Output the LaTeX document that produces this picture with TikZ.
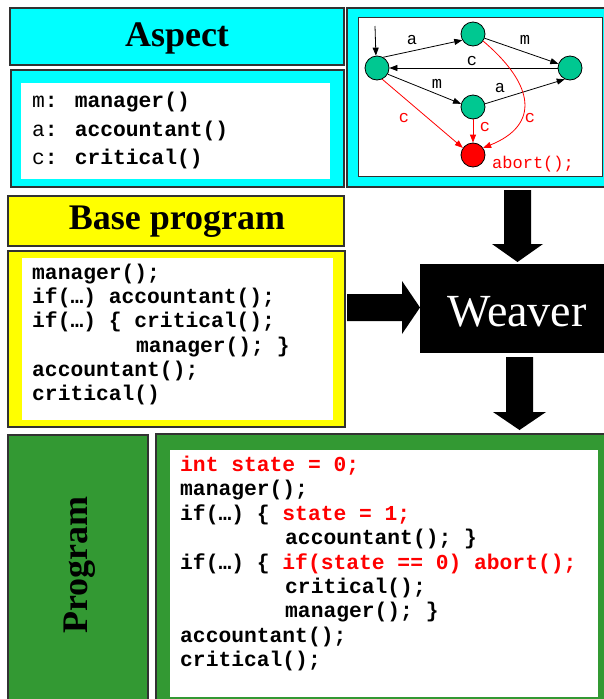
\documentclass[tikz,border=0pt]{standalone}
\usepackage{fontspec}
\setmainfont{Liberation Serif}
\newfontfamily\codefont{Liberation Mono}
\usetikzlibrary{arrows.meta}
\definecolor{cy}{RGB}{0,255,255}
\definecolor{yl}{RGB}{255,255,0}
\definecolor{gr}{RGB}{51,153,51}
\definecolor{nd}{RGB}{0,200,145}
\definecolor{bd}{RGB}{50,50,50}
\definecolor{rd}{RGB}{255,0,0}
\tikzset{
  box/.style={draw=bd,line width=1.2pt,anchor=north west,inner sep=0pt,outer sep=0pt},
  wbox/.style={fill=white,anchor=north west,inner sep=0pt,outer sep=0pt},
  title/.style={font=\fontsize{36}{40}\selectfont\bfseries},
  code/.style={anchor=base west,inner sep=0pt,font=\codefont\fontsize{21.3}{24}\selectfont\bfseries},
  st/.style={circle,draw=black,line width=0.8pt,minimum size=24pt,inner sep=0pt},
  glab/.style={inner sep=0pt,font=\codefont\fontsize{17}{20}\selectfont},
  garr/.style={line width=0.8pt,-{Triangle[length=8pt,width=6pt]}},
  blk/.style={fill=black,draw=none}
}
\begin{document}
\begin{tikzpicture}[x=1pt,y=-1pt]
\useasboundingbox (0,0) rectangle (604,699);
% ----- Aspect
\node[box,fill=cy,minimum width=334pt,minimum height=57pt] (aspT) at (10,8) {};
\node[title] (aspTxt) at (177,38) {Aspect};
\node[box,fill=cy,minimum width=333pt,minimum height=117pt] (aspC) at (11,70) {};
\node[wbox,minimum width=309pt,minimum height=96pt] (aspW) at (21,83) {};
\node[code] (a1) at (32,107) {{\mdseries m}: manager()};
\node[code] (a2) at (32,136) {{\mdseries a}: accountant()};
\node[code] (a3) at (32,164) {{\mdseries c}: critical()};
% ----- automaton
\node[box,fill=cy,minimum width=262pt,minimum height=179pt] (gB) at (347,8) {};
\node[wbox,draw=bd,line width=1pt,minimum width=244pt,minimum height=159pt] (gW) at (358,17) {};
\node[st,fill=nd] (n1) at (377,68) {};
\node[st,fill=nd] (n2) at (473,34) {};
\node[st,fill=nd] (n3) at (570,68) {};
\node[st,fill=nd] (n4) at (473,107) {};
\node[st,fill=rd] (n5) at (473,155) {};
\coordinate (s0) at (375,26);
\draw[garr] (s0) -- (n1.95);
\draw[garr] (n1.60) -- (n2.210);
\draw[garr] (n2.-20) -- (n3.160);
\draw[garr] (n3.west) -- (n1.east);
\draw[garr] (n1.-30) -- (n4.165);
\draw[garr] (n4.15) -- (n3.-115);
\draw[garr,rd] (n1.-65) -- (n5.145);
\draw[garr,rd] (n4.south) -- (n5.north);
\draw[garr,rd] (n2.-35) .. controls (535,85) and (540,125) .. (n5.35);
\node[glab] (la1) at (412,40) {a};
\node[glab] (lm1) at (525,40) {m};
\node[glab] (lc1) at (472,61) {c};
\node[glab] (lm2) at (437,84) {m};
\node[glab] (la2) at (500,88) {a};
\node[glab,rd] (lc2) at (404,118) {c};
\node[glab,rd] (lc3) at (485,127) {c};
\node[glab,rd] (lc4) at (530,118) {c};
\node[glab,rd,anchor=west] (ab) at (492,164) {abort();};
% ----- Base program
\node[box,fill=yl,minimum width=336pt,minimum height=50pt] (bpT) at (8,196) {};
\node[title] (bpTxt) at (177,222) {Base program};
\node[box,fill=yl,minimum width=337pt,minimum height=176pt] (bpC) at (8,251) {};
\node[wbox,minimum width=311pt,minimum height=162pt] (bpW) at (22,258) {};
\node[code] (b1) at (32,279) {manager();};
\node[code] (b2) at (32,303) {if(…) accountant();};
\node[code] (b3) at (32,327) {if(…) \{ critical();};
\node[code] (b4) at (136,352) {manager(); \}};
\node[code] (b5) at (32,376) {accountant();};
\node[code] (b6) at (32,400) {critical()};
% ----- Weaver
\node[fill=black,anchor=north west,minimum width=190pt,minimum height=89pt,inner sep=0pt] (wv) at (420,264) {};
\node[text=white,font=\fontsize{46}{50}\selectfont] (wvTxt) at (517,312) {Weaver};
\fill[blk] (347,294) -- (402,294) -- (402,281) -- (420,307.5) -- (402,334) -- (402,321) -- (347,321) -- cycle;
\fill[blk] (504,190) -- (531,190) -- (531,244) -- (543,244) -- (517.5,262) -- (492,244) -- (504,244) -- cycle;
\fill[blk] (506,357) -- (533,357) -- (533,412) -- (546,412) -- (519.5,430) -- (493,412) -- (506,412) -- cycle;
% ----- Program
\node[box,fill=gr,minimum width=140pt,minimum height=270pt] (prT) at (8,435) {};
\node[title,rotate=90] (prTxt) at (80,565) {Program};
\node[box,fill=gr,minimum width=454pt,minimum height=270pt] (prC) at (156,434) {};
\node[wbox,minimum width=428pt,minimum height=247pt] (prW) at (170,450) {};
\node[code,rd] (p1) at (180,471) {int state = 0;};
\node[code] (p2) at (180,495) {manager();};
\node[code] (p3) at (180,520) {if(…) \{ \textcolor{rd}{state = 1;}};
\node[code] (p4) at (285,544) {accountant(); \}};
\node[code] (p5) at (180,569) {if(…) \{ \textcolor{rd}{if(state == 0) abort();}};
\node[code] (p6) at (285,593) {critical();};
\node[code] (p7) at (285,617) {manager(); \}};
\node[code] (p8) at (180,642) {accountant();};
\node[code] (p9) at (180,666) {critical();};
\end{tikzpicture}
\end{document}
